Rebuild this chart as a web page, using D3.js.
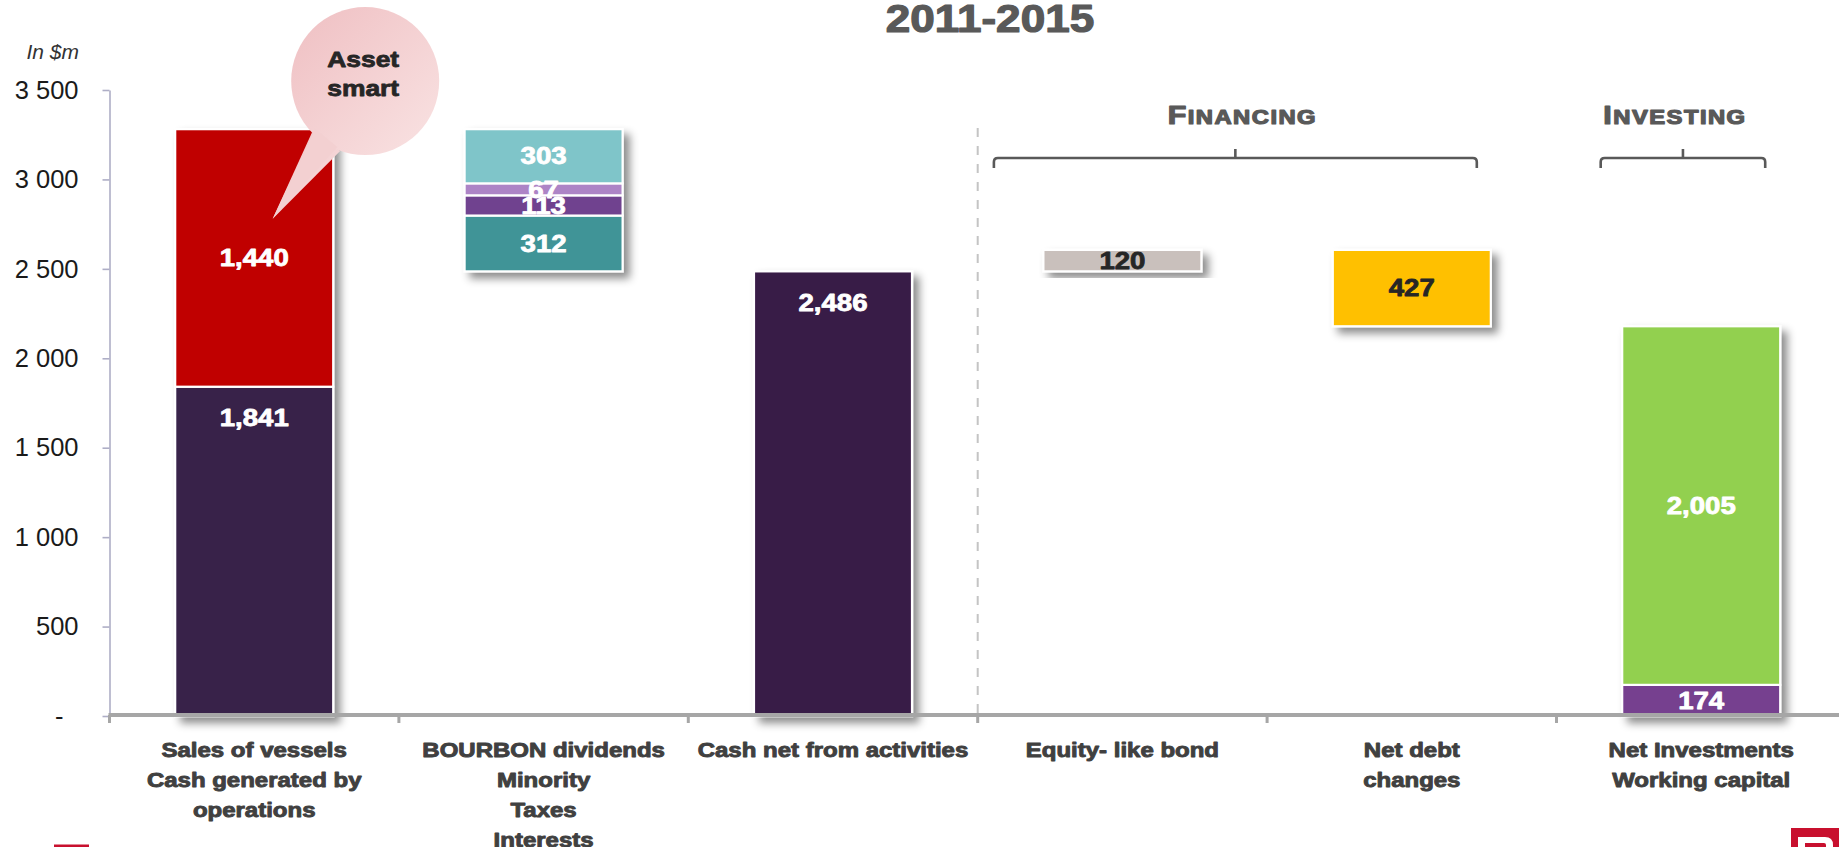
<!DOCTYPE html>
<html>
<head>
<meta charset="utf-8">
<script src="https://cdn.jsdelivr.net/npm/d3@7/dist/d3.min.js"></script>
<style>
  html, body { margin: 0; padding: 0; background: #ffffff; }
  svg { display: block; }
</style>
</head>
<body>
<svg id="chart" width="1839" height="847"></svg>
<script>
// ---- Data (in $m) -------------------------------------------------------
const chartTitle = "2011-2015";
const unitLabel = "In $m";

const categoryLabels = [
  ["Sales of vessels", "Cash generated by", "operations"],
  ["BOURBON dividends", "Minority", "Taxes", "Interests"],
  ["Cash net from activities"],
  ["Equity- like bond"],
  ["Net debt", "changes"],
  ["Net Investments", "Working capital"]
];

// How each column moves the running cash level
const columnKinds = ["total", "decrease", "total", "increase", "decrease", "total"];

// Stacked pieces of each column, listed bottom to top
const segmentValues = [
  [1841, 1440],
  [312, 113, 67, 303],
  [2486],
  [120],
  [427],
  [174, 2005]
];

const yTickValues = [0, 500, 1000, 1500, 2000, 2500, 3000, 3500];

const groupLabels = [
  { first: "F", rest: "INANCING", from: 3, to: 4 },
  { first: "I", rest: "NVESTING", from: 5, to: 5 }
];

const calloutLines = ["Asset", "smart"];

// ---- Styles ---------------------------------------------------------------
const segmentColors = [
  ["#37234a", "#c00000"],
  ["#3f9497", "#6f428f", "#ad84c6", "#7fc5c9"],
  ["#391a47"],
  ["#c9c0bc"],
  ["#ffc000"],
  ["#763f8f", "#92d050"]
];
const darkLabelColumns = new Set([3, 4]);
const topLabelSegments = new Set(["0-0", "2-0"]);

const W = 1839, H = 847;
const svg = d3.select("#chart");
const defs = svg.append("defs");

const shadow = defs.append("filter").attr("id", "barShadow")
  .attr("x", "-20%").attr("y", "-20%").attr("width", "150%").attr("height", "150%");
shadow.append("feDropShadow")
  .attr("dx", 6).attr("dy", 6).attr("stdDeviation", 4)
  .attr("flood-color", "#000").attr("flood-opacity", 0.45);

const bubbleGrad = defs.append("linearGradient").attr("id", "bubbleGrad")
  .attr("x1", "0%").attr("y1", "0%").attr("x2", "100%").attr("y2", "100%");
bubbleGrad.append("stop").attr("offset", "0%").attr("stop-color", "#efbfc2");
bubbleGrad.append("stop").attr("offset", "100%").attr("stop-color", "#f9e3e3");

// ---- Scales -------------------------------------------------------------
const plotLeft = 109.5, step = 289.4;
const x = d3.scaleBand()
  .domain(d3.range(categoryLabels.length))
  .range([plotLeft, plotLeft + step * categoryLabels.length])
  .paddingInner(0.454)
  .paddingOuter(0.227);

const y = d3.scaleLinear().domain([0, 3500]).range([716, 90]);

// Running level -> base of each floating column
let level = 0;
const columns = segmentValues.map((vals, i) => {
  const sum = d3.sum(vals);
  let base;
  if (columnKinds[i] === "total") { base = 0; level = sum; }
  else if (columnKinds[i] === "decrease") { base = level - sum; level = base; }
  else { base = level; level = level + sum; }
  let acc = base;
  const segs = vals.map((v, j) => {
    const s = { col: i, idx: j, value: v, y0: acc, y1: acc + v, color: segmentColors[i][j] };
    acc += v;
    return s;
  });
  return { index: i, base, segs };
});

// Helper: heavy, slightly widened text
function wideText(parent, tx, ty, str, opts) {
  const g = parent.append("g")
    .attr("transform", `translate(${tx},${ty}) scale(${opts.sx || 1},1)`);
  const t = g.append("text")
    .attr("text-anchor", opts.anchor || "middle")
    .attr("font-family", "'Liberation Sans', Arial, sans-serif")
    .attr("font-weight", "bold")
    .attr("font-size", opts.size)
    .attr("fill", opts.fill)
    .attr("stroke", opts.fill)
    .attr("stroke-width", opts.stroke || 0)
    .attr("stroke-linejoin", "round")
    .attr("dominant-baseline", opts.baseline || "alphabetic")
    .text(str);
  return t;
}

// ---- Title & unit ---------------------------------------------------------
wideText(svg, 990, 32, chartTitle, { size: 38, fill: "#595959", sx: 1.16, stroke: 1.2 });

svg.append("text")
  .attr("x", 79).attr("y", 59)
  .attr("text-anchor", "end")
  .attr("font-family", "'Liberation Sans', Arial, sans-serif")
  .attr("font-style", "italic")
  .attr("font-size", 21)
  .attr("fill", "#333")
  .text(unitLabel);

// ---- Y axis -------------------------------------------------------------
const spaceFmt = d3.formatLocale({ decimal: ".", thousands: " ", grouping: [3], currency: ["$", ""] }).format(",");
const yAxis = d3.axisLeft(y)
  .tickValues(yTickValues)
  .tickSize(7)
  .tickSizeOuter(0)
  .tickPadding(24)
  .tickFormat(d => d === 0 ? "-" : spaceFmt(d));

const yG = svg.append("g").attr("transform", `translate(${plotLeft},0)`).call(yAxis);
yG.select(".domain").attr("stroke", "#aeaec6").attr("stroke-width", 1.6);
yG.selectAll(".tick line").attr("stroke", "#aeaec6").attr("stroke-width", 1.6);
yG.selectAll(".tick text")
  .attr("font-family", "'Liberation Sans', Arial, sans-serif")
  .attr("font-size", 25.5)
  .attr("fill", "#1a1a1a")
  .attr("dx", d => d === 0 ? -15 : 0);

// ---- Separator between operating and financing/investing -------------------
const sepX = plotLeft + step * 3;
svg.append("line")
  .attr("x1", sepX).attr("x2", sepX)
  .attr("y1", 128).attr("y2", y(0))
  .attr("stroke", "#c4c4c4").attr("stroke-width", 2)
  .attr("stroke-dasharray", "9,9");

// ---- Bars ---------------------------------------------------------------
const colG = svg.append("g").selectAll("g.col")
  .data(columns).join("g")
  .attr("class", "col")
  .attr("filter", "url(#barShadow)");

colG.selectAll("rect")
  .data(d => d.segs).join("rect")
  .attr("x", d => x(d.col))
  .attr("width", x.bandwidth())
  .attr("y", d => y(d.y1))
  .attr("height", d => y(d.y0) - y(d.y1))
  .attr("fill", d => d.color)
  .attr("stroke", "#ffffff")
  .attr("stroke-width", 2.2);

// ---- Value labels -------------------------------------------------------
const labelG = svg.append("g");
columns.forEach(c => {
  c.segs.forEach(s => {
    const key = `${s.col}-${s.idx}`;
    const cx = x(s.col) + x.bandwidth() / 2;
    const cy = topLabelSegments.has(key) ? y(s.y1) + 31 : (y(s.y0) + y(s.y1)) / 2;
    const fill = darkLabelColumns.has(s.col) ? "#262626" : "#ffffff";
    wideText(labelG, cx, cy, d3.format(",")(s.value), {
      size: 23, fill, sx: 1.2, stroke: 0.8, baseline: "central"
    });
  });
});

// ---- X axis -------------------------------------------------------------
const axisY = 715;
svg.append("line")
  .attr("x1", plotLeft - 1).attr("x2", W)
  .attr("y1", axisY).attr("y2", axisY)
  .attr("stroke", "#a6a6a6").attr("stroke-width", 4);
svg.append("g").selectAll("line")
  .data(d3.range(categoryLabels.length + 1)).join("line")
  .attr("x1", i => plotLeft + i * x.step())
  .attr("x2", i => plotLeft + i * x.step())
  .attr("y1", axisY).attr("y2", axisY + 8)
  .attr("stroke", "#a6a6a6").attr("stroke-width", 3);

const catG = svg.append("g");
categoryLabels.forEach((lines, i) => {
  const cx = x(i) + x.bandwidth() / 2;
  lines.forEach((line, k) => {
    wideText(catG, cx, 757 + k * 30, line, { size: 20, fill: "#404040", sx: 1.2, stroke: 0.9 });
  });
});

// ---- Group brackets -----------------------------------------------------
const brG = svg.append("g");
groupLabels.forEach((g, gi) => {
  const left = gi === 0 ? x(g.from) - 49.5 : x(g.from) - 21.5;
  const right = x(g.to) + x.bandwidth() - (gi === 0 ? 14 : 15);
  const mid = (left + right) / 2;
  const by = 158;
  brG.append("path")
    .attr("d", `M${left},168 V162 Q${left},${by} ${left + 4},${by} H${right - 4} Q${right},${by} ${right},162 V168`)
    .attr("fill", "none").attr("stroke", "#595959").attr("stroke-width", 2.6);
  brG.append("path")
    .attr("d", `M${mid},${by} V149`)
    .attr("fill", "none").attr("stroke", "#595959").attr("stroke-width", 2.6);

  const gg = brG.append("g").attr("transform", `translate(${mid + (gi === 0 ? 7 : -8)},124) scale(1.22,1)`);
  const t = gg.append("text")
    .attr("text-anchor", "middle")
    .attr("font-family", "'Liberation Sans', Arial, sans-serif")
    .attr("font-weight", "bold")
    .attr("letter-spacing", 1.2)
    .attr("fill", "#595959")
    .attr("stroke", "#595959").attr("stroke-width", 1.2)
    .attr("stroke-linejoin", "round");
  t.append("tspan").attr("font-size", 25).text(g.first);
  t.append("tspan").attr("font-size", 19.5).text(g.rest);
});

// ---- Callout bubble on the first column ---------------------------------
const bx = x(0) + 190, byC = y(3550), br = 74;
const tipX = x(0) + 97.5, tipY = y(2780);
const callG = svg.append("g");
callG.append("path")
  .attr("d", `M${bx - 53},${byC + 51} L${tipX},${tipY} L${bx - 25},${byC + 70} Z`)
  .attr("fill", "url(#bubbleGrad)");
callG.append("circle")
  .attr("cx", bx).attr("cy", byC).attr("r", br)
  .attr("fill", "url(#bubbleGrad)");
// tail again on top so the join with the circle stays seamless
callG.append("path")
  .attr("d", `M${bx - 50},${byC + 48} L${tipX},${tipY} L${bx - 28},${byC + 66} Z`)
  .attr("fill", "#f3d0d1");
calloutLines.forEach((line, k) => {
  wideText(callG, bx - 2, byC - 14 + k * 29, line, { size: 22, fill: "#262626", sx: 1.2, stroke: 0.8 });
});

// ---- Corner brand marks -------------------------------------------------
svg.append("rect").attr("x", 54).attr("y", 844.5).attr("width", 35).attr("height", 2.5).attr("fill", "#c8102e");
svg.append("rect").attr("x", 1791).attr("y", 828).attr("width", 48).attr("height", 19).attr("fill", "#c8102e");
svg.append("path")
  .attr("d", "M1798,847 V837 H1825 Q1833,837 1833,845 V847 H1826 V845 Q1826,843 1824,843 H1805 V847 Z")
  .attr("fill", "#ffffff");
</script>
</body>
</html>
